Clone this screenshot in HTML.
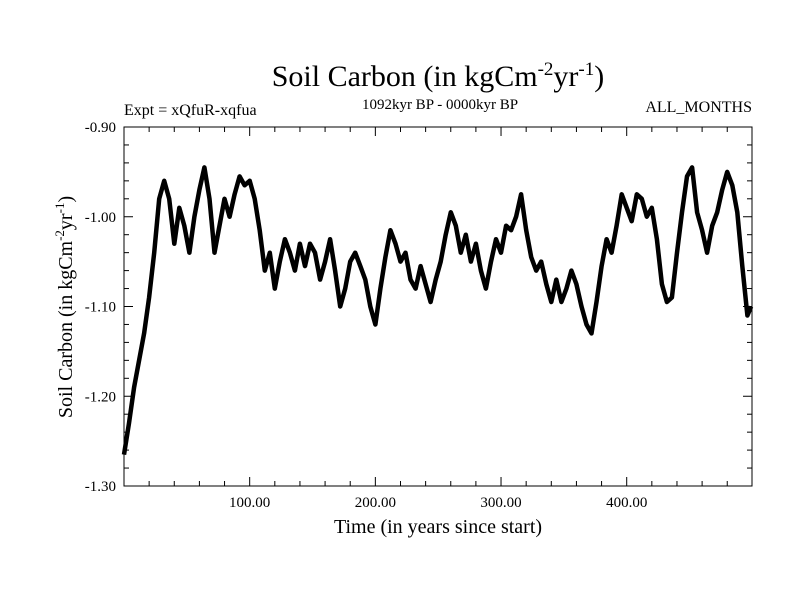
<!DOCTYPE html>
<html><head><meta charset="utf-8"><style>
body{margin:0;background:#fff;}
svg{display:block;font-family:"Liberation Serif",serif;}
</style></head><body>
<svg id="chart" width="800" height="600" viewBox="0 0 800 600">
<rect width="800" height="600" fill="#fff"/>
<text x="438" y="86" text-anchor="middle" font-size="30">Soil Carbon (in kgCm<tspan dy="-11" font-size="19">-2</tspan><tspan dy="11">yr</tspan><tspan dy="-11" font-size="19">-1</tspan><tspan dy="11">)</tspan></text>
<text x="440" y="109" text-anchor="middle" font-size="15">1092kyr BP - 0000kyr BP</text>
<text x="124" y="115" font-size="16">Expt = xQfuR-xqfua</text>
<text x="752" y="112" text-anchor="end" font-size="16">ALL_MONTHS</text>
<text x="438" y="533" text-anchor="middle" font-size="20">Time (in years since start)</text>
<text transform="translate(72,307) rotate(-90)" text-anchor="middle" font-size="20">Soil Carbon (in kgCm<tspan dy="-8" font-size="13">-2</tspan><tspan dy="8">yr</tspan><tspan dy="-8" font-size="13">-1</tspan><tspan dy="8">)</tspan></text>
<g id="axes"></g>
<path id="series" fill="none" stroke="#000" stroke-width="4.5" stroke-linejoin="round"/>
<rect x="124" y="127" width="628" height="359" fill="none" stroke="#000" stroke-width="1"/>
</svg>
<script>
const years = [0,4,8,12,16,20,24,28,32,36,40,44,48,52,56,60,64,68,72,76,80,84,88,92,96,100,104,108,112,116,120,124,128,132,136,140,144,148,152,156,160,164,168,172,176,180,184,188,192,196,200,204,208,212,216,220,224,228,232,236,240,244,248,252,256,260,264,268,272,276,280,284,288,292,296,300,304,308,312,316,320,324,328,332,336,340,344,348,352,356,360,364,368,372,376,380,384,388,392,396,400,404,408,412,416,420,424,428,432,436,440,444,448,452,456,460,464,468,472,476,480,484,488,492,496,499];
const soilCarbon = [-1.265,-1.23,-1.19,-1.16,-1.13,-1.09,-1.04,-0.98,-0.96,-0.98,-1.03,-0.99,-1.01,-1.04,-1.0,-0.97,-0.945,-0.98,-1.04,-1.01,-0.98,-1.0,-0.975,-0.955,-0.965,-0.96,-0.98,-1.015,-1.06,-1.04,-1.08,-1.05,-1.025,-1.04,-1.06,-1.03,-1.055,-1.03,-1.04,-1.07,-1.05,-1.025,-1.06,-1.10,-1.08,-1.05,-1.04,-1.055,-1.07,-1.10,-1.12,-1.08,-1.045,-1.015,-1.03,-1.05,-1.04,-1.07,-1.08,-1.055,-1.075,-1.095,-1.07,-1.05,-1.02,-0.995,-1.01,-1.04,-1.02,-1.05,-1.03,-1.06,-1.08,-1.05,-1.025,-1.04,-1.01,-1.015,-1.0,-0.975,-1.015,-1.045,-1.06,-1.05,-1.075,-1.095,-1.07,-1.095,-1.08,-1.06,-1.075,-1.10,-1.12,-1.13,-1.095,-1.055,-1.025,-1.04,-1.01,-0.975,-0.99,-1.005,-0.975,-0.98,-1.0,-0.99,-1.025,-1.075,-1.095,-1.09,-1.04,-0.995,-0.955,-0.945,-0.995,-1.015,-1.04,-1.01,-0.995,-0.97,-0.95,-0.965,-0.995,-1.055,-1.11,-1.10];
const yTickValues = [-1.30,-1.20,-1.10,-1.00,-0.90];
const yTickLabels = ["-1.30","-1.20","-1.10","-1.00","-0.90"];
const xTickValues = [100,200,300,400];
const xTickLabels = ["100.00","200.00","300.00","400.00"];

const L=124,R=752,T=127,B=486,X0=0,X1=499.7,Y0=-1.30,Y1=-0.90;
const sx=v=>L+(v-X0)/(X1-X0)*(R-L);
const sy=v=>B-(v-Y0)/(Y1-Y0)*(B-T);
const NS="http://www.w3.org/2000/svg";
const axes=document.getElementById('axes');
function mk(tag,attrs){const e=document.createElementNS(NS,tag);for(const k in attrs)e.setAttribute(k,attrs[k]);axes.appendChild(e);return e;}

for(let v=20;v<X1;v+=20){
  const major=v%100===0,x=sx(v),len=major?9:5;
  const b=mk('line',{x1:x,x2:x,y1:B,y2:B-len,stroke:'#000'});
  
  
  const t=mk('line',{x1:x,x2:x,y1:T,y2:T+len,stroke:'#000'});
  
  
}
for(let i=0;i<=20;i++){
  const v=Y0+i*0.02,y=sy(v),major=i%5===0,len=major?9:5;
  const l=mk('line',{x1:L,x2:L+len,y1:y,y2:y,stroke:'#000'});
  
  
  const r=mk('line',{x1:R,x2:R-len,y1:y,y2:y,stroke:'#000'});
  
  
}
yTickValues.forEach((v,i)=>{
  const t=mk('text',{x:116,y:sy(v)+5,'text-anchor':'end','font-size':15});
  t.textContent=yTickLabels[i];
  
  
});
xTickValues.forEach((v,i)=>{
  const t=mk('text',{x:sx(v),y:507,'text-anchor':'middle','font-size':15});
  t.textContent=xTickLabels[i];
  
  
});
document.getElementById('series').setAttribute('d',years.map((t,i)=>(i?'L':'M')+sx(t).toFixed(1)+','+sy(soilCarbon[i]).toFixed(1)).join(''));
</script>
</body></html>
